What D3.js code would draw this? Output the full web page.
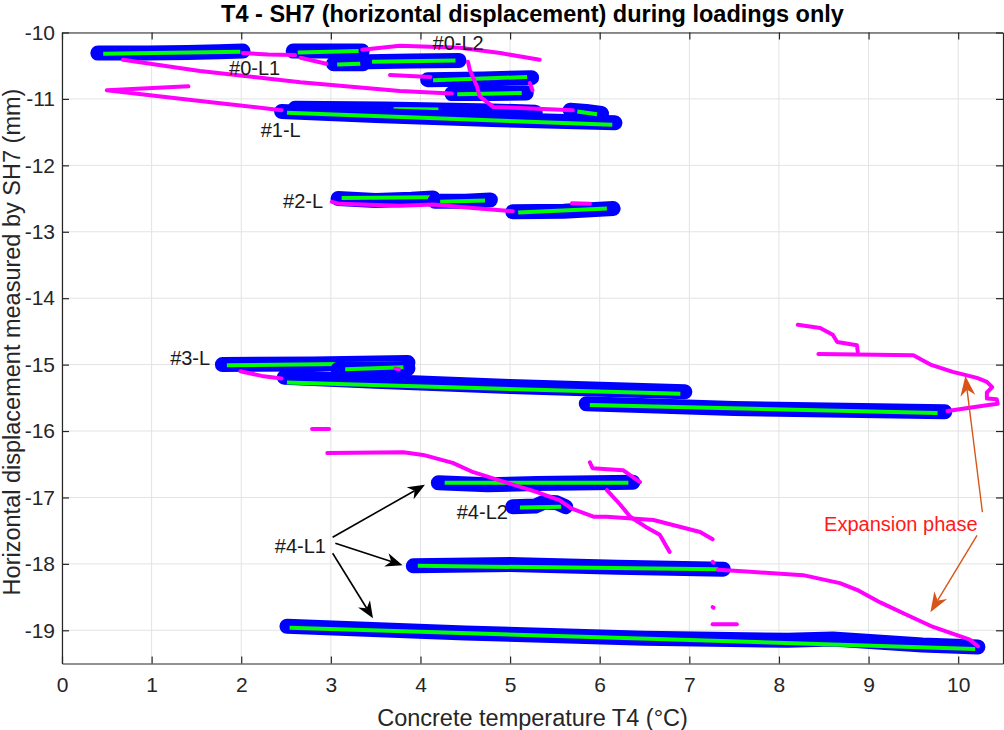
<!DOCTYPE html>
<html>
<head>
<meta charset="utf-8">
<script src="https://cdn.jsdelivr.net/npm/d3@7"></script>
<style>
  html, body { margin: 0; padding: 0; background: #fff; }
  svg { display: block; font-family: "Liberation Sans", Arial, Helvetica, sans-serif; }
</style>
</head>
<body>
<svg id="chart" width="1004" height="730"></svg>
<script>
// Axis ticks
const xTicks = [0, 1, 2, 3, 4, 5, 6, 7, 8, 9, 10];
const yTicks = [-10, -11, -12, -13, -14, -15, -16, -17, -18, -19];

// Loading phases: raw points [T4 (°C), SH7 (mm)] per loading, grouped by campaign
const loading0 = [
  [[0.40, -10.31], [0.95, -10.31], [1.40, -10.30], [1.75, -10.29], [2.02, -10.28]],
  [[2.58, -10.28], [3.00, -10.28], [3.35, -10.28]],
  [[3.03, -10.47], [3.36, -10.47]],
  [[3.41, -10.44], [3.90, -10.43], [4.43, -10.42]],
  [[4.08, -10.71], [4.70, -10.70], [5.24, -10.68]],
  [[4.35, -10.92], [4.80, -10.92], [5.18, -10.91]]
];
const loading1 = [
  [[2.60, -11.14], [3.60, -11.15], [4.80, -11.18], [5.28, -11.20]],
  [[2.45, -11.19], [3.50, -11.25], [4.80, -11.31], [6.17, -11.36]],
  [[5.67, -11.17], [5.85, -11.19], [6.02, -11.22]]
];
const loading2 = [
  [[3.08, -12.50], [3.50, -12.53], [3.90, -12.51], [4.14, -12.49]],
  [[4.16, -12.54], [4.50, -12.54], [4.78, -12.52]],
  [[5.03, -12.70], [5.60, -12.69], [6.15, -12.65]]
];
const loading3 = [
  [[1.79, -15.00], [2.80, -14.99], [3.86, -14.97]],
  [[3.08, -15.07], [3.50, -15.07], [3.86, -15.06]],
  [[2.48, -15.19], [3.50, -15.25], [5.00, -15.33], [6.20, -15.38], [6.95, -15.41]],
  [[5.85, -15.59], [7.50, -15.66], [9.85, -15.71]]
];
const loading4 = [
  [[4.20, -16.78], [4.75, -16.81], [5.30, -16.79], [6.37, -16.77]],
  [[5.03, -17.14], [5.28, -17.13], [5.38, -17.07], [5.52, -17.08], [5.62, -17.14]],
  [[3.92, -18.03], [5.00, -18.01], [6.20, -18.05], [7.38, -18.08]],
  [[2.51, -18.94], [4.50, -19.04], [6.50, -19.12], [8.10, -19.15], [8.60, -19.13],
   [9.60, -19.22], [10.22, -19.25]]
];

// Linear fits of each loading: [T start, SH7 start, T end, SH7 end]
const fit0 = [
  [0.46, -10.32, 1.99, -10.29],
  [2.63, -10.30, 3.31, -10.28],
  [3.07, -10.48, 3.33, -10.47],
  [3.46, -10.44, 4.39, -10.42],
  [4.14, -10.72, 5.19, -10.67],
  [4.41, -10.93, 5.13, -10.91]
];
const fit1 = [
  [3.70, -11.15, 4.20, -11.16],
  [2.51, -11.21, 6.14, -11.39],
  [5.75, -11.19, 5.97, -11.23]
];
const fit2 = [
  [3.12, -12.49, 4.11, -12.48],
  [4.22, -12.55, 4.72, -12.53],
  [5.09, -12.71, 6.08, -12.65]
];
const fit3 = [
  [1.84, -15.01, 3.81, -14.98],
  [3.16, -15.07, 3.81, -15.04],
  [2.51, -15.27, 6.90, -15.44],
  [5.89, -15.61, 9.77, -15.73]
];
const fit4 = [
  [4.27, -16.78, 6.32, -16.78],
  [5.11, -17.15, 5.57, -17.14],
  [3.97, -18.03, 7.32, -18.08],
  [2.54, -18.96, 10.19, -19.28]
];

// Remaining record (outside loadings)
const traceTop = [
  [[0.68, -10.41], [1.54, -10.58], [2.66, -10.75], [3.77, -10.88], [4.35, -10.92]],
  [[1.41, -10.81], [0.50, -10.87], [1.54, -11.03], [2.45, -11.17]],
  [[2.02, -10.31], [2.30, -10.33], [2.60, -10.34]],
  [[2.66, -10.38], [2.95, -10.47]],
  [[3.35, -10.26], [3.77, -10.20], [4.44, -10.23], [4.89, -10.31], [5.33, -10.41]],
  [[3.66, -10.64], [4.11, -10.67]],
  [[4.53, -10.44], [4.55, -10.56], [4.63, -10.81], [4.66, -10.96], [4.81, -11.12], [5.70, -11.17]],
  [[5.22, -10.76], [5.25, -10.87]]
];
const trace2 = [
  [[3.01, -12.55], [3.10, -12.58], [3.77, -12.61], [4.14, -12.59], [4.55, -12.64], [5.03, -12.69]],
  [[5.69, -12.57], [5.89, -12.58]]
];
const trace3 = [
  [[1.99, -15.10], [2.23, -15.17], [2.45, -15.21]],
  [[2.79, -15.97], [2.98, -15.97]],
  [[3.72, -15.06], [3.76, -15.07]]
];
const trace4 = [
  [[2.96, -16.33], [3.81, -16.32], [4.03, -16.36], [4.36, -16.48], [4.59, -16.62], [4.97, -16.78],
   [5.30, -16.92], [5.55, -17.04], [5.69, -17.17], [5.93, -17.29], [6.08, -17.29], [6.60, -17.34],
   [7.12, -17.52], [7.26, -17.63]],
  [[5.89, -16.47], [5.92, -16.56], [6.26, -16.59], [6.45, -16.77]],
  [[6.08, -16.89], [6.23, -17.11], [6.34, -17.29], [6.51, -17.44], [6.67, -17.56], [6.78, -17.82]],
  [[7.26, -17.97], [7.27, -17.98]],
  [[7.26, -18.65], [7.27, -18.66]],
  [[7.26, -18.91], [7.53, -18.91]]
];
const traceExpansion = [
  [[7.32, -18.09], [7.68, -18.12], [8.27, -18.17], [8.68, -18.29], [8.87, -18.39], [9.13, -18.58],
   [9.43, -18.77], [9.72, -18.95], [10.13, -19.14], [10.22, -19.24]],
  [[8.21, -14.40], [8.46, -14.45], [8.60, -14.55], [8.65, -14.66], [8.87, -14.71], [8.88, -14.81]],
  [[8.44, -14.84], [9.50, -14.86], [9.69, -15.00], [9.94, -15.11], [10.21, -15.20], [10.32, -15.26],
   [10.38, -15.34], [10.32, -15.42], [10.32, -15.51], [10.43, -15.52], [10.44, -15.59], [10.28, -15.62],
   [9.88, -15.70]]
];

// Loading labels (centre positions in data units)
const labelText = ["#0-L1", "#0-L2", "#1-L", "#2-L", "#3-L", "#4-L2", "#4-L1"];
const labelT = [2.15, 4.42, 2.44, 2.69, 1.43, 4.69, 2.66];
const labelD = [-10.53, -10.16, -11.47, -12.54, -14.90, -17.22, -17.73];

// Arrows pointing at the #4-L1 loadings: [T tail, SH7 tail, T head, SH7 head]
const arrowsL1 = [
  [3.02, -17.60, 4.05, -16.81],
  [3.05, -17.69, 3.80, -18.02],
  [3.02, -17.84, 3.47, -18.82]
];
// Expansion phase note
const expansionText = "Expansion phase";
const expansionAt = [9.36, -17.39];
const arrowsExpansion = [
  [10.27, -17.22, 10.08, -15.17],
  [10.21, -17.57, 9.69, -18.73]
];

const svg = d3.select("#chart");
const margin = { left: 62, top: 32.5, right: 1003, bottom: 663.5 };

const x = d3.scaleLinear().domain([0, 10.5]).range([margin.left, margin.right]);
const y = d3.scaleLinear().domain([-19.5, -10]).range([margin.bottom, margin.top]);

svg.append("rect").attr("width", 1004).attr("height", 730).attr("fill", "#fff");

// Grid
const grid = svg.append("g").attr("stroke", "#e3e3e3").attr("stroke-width", 1);
grid.selectAll("line.gx").data(xTicks).join("line")
  .attr("x1", d => x(d)).attr("x2", d => x(d))
  .attr("y1", margin.top).attr("y2", margin.bottom);
grid.selectAll("line.gy").data(yTicks).join("line")
  .attr("x1", margin.left).attr("x2", margin.right)
  .attr("y1", d => y(d)).attr("y2", d => y(d));

// Plot clip
svg.append("clipPath").attr("id", "plotClip").append("rect")
  .attr("x", margin.left).attr("y", margin.top)
  .attr("width", margin.right - margin.left).attr("height", margin.bottom - margin.top);

const plot = svg.append("g").attr("clip-path", "url(#plotClip)");
const line = d3.line().x(d => x(d[0])).y(d => y(d[1]));

const loadings = [loading0, loading1, loading2, loading3, loading4];
const fits = [fit0, fit1, fit2, fit3, fit4];
const traces = [traceTop, trace2, trace3, trace4, traceExpansion];

// Loadings: raw data (blue) with linear fit (green)
loadings.forEach((group, gi) => {
  group.forEach((seg, si) => {
    plot.append("path").datum(seg)
      .attr("d", line)
      .attr("fill", "none").attr("stroke", "#0000ff")
      .attr("stroke-width", 15).attr("stroke-linecap", "round").attr("stroke-linejoin", "round");
    const f = fits[gi][si];
    plot.append("line")
      .attr("x1", x(f[0])).attr("y1", y(f[1]))
      .attr("x2", x(f[2])).attr("y2", y(f[3]))
      .attr("stroke", "#00ff00").attr("stroke-width", 4);
  });
});

// Record outside loadings (magenta)
traces.forEach(group => {
  group.forEach(seg => {
    plot.append("path").datum(seg)
      .attr("d", line)
      .attr("fill", "none").attr("stroke", "#ff00ff")
      .attr("stroke-width", 4).attr("stroke-linecap", "round").attr("stroke-linejoin", "round");
  });
});

// Axes (ticks pointing inward on all four sides)
const axisColor = "#262626";
function styleAxis(g) {
  g.select(".domain").attr("stroke", axisColor).attr("stroke-width", 1.2);
  g.selectAll(".tick line").attr("stroke", axisColor).attr("stroke-width", 1.2);
  g.selectAll(".tick text").attr("fill", axisColor).style("font-size", "21px");
}
svg.append("g").attr("transform", `translate(0,${margin.bottom})`)
  .call(d3.axisBottom(x).tickValues(xTicks).tickSize(-7).tickSizeOuter(0).tickPadding(14).tickFormat(d => String(d)))
  .call(styleAxis);
svg.append("g").attr("transform", `translate(0,${margin.top})`)
  .call(d3.axisTop(x).tickValues(xTicks).tickSize(-7).tickSizeOuter(0).tickFormat(""))
  .call(styleAxis);
svg.append("g").attr("transform", `translate(${margin.left},0)`)
  .call(d3.axisLeft(y).tickValues(yTicks).tickSize(-7).tickSizeOuter(0).tickPadding(7).tickFormat(d => String(d)))
  .call(styleAxis);
svg.append("g").attr("transform", `translate(${margin.right},0)`)
  .call(d3.axisRight(y).tickValues(yTicks).tickSize(-7).tickSizeOuter(0).tickFormat(""))
  .call(styleAxis);

// Titles
svg.append("text")
  .attr("x", (margin.left + margin.right) / 2).attr("y", 22)
  .attr("text-anchor", "middle").attr("font-weight", "bold").style("font-size", "23.5px")
  .attr("fill", "#000")
  .text("T4 - SH7 (horizontal displacement) during loadings only");
svg.append("text")
  .attr("x", (margin.left + margin.right) / 2).attr("y", 726)
  .attr("text-anchor", "middle").style("font-size", "23.5px").attr("fill", axisColor)
  .text("Concrete temperature T4 (°C)");
svg.append("text")
  .attr("transform", `translate(20,${(margin.top + margin.bottom) / 2 - 6}) rotate(-90)`)
  .attr("text-anchor", "middle").style("font-size", "23.5px").attr("fill", axisColor)
  .text("Horizontal displacement measured by SH7 (mm)");

// Arrow helper: line with a swept-back head, drawn from data coordinates
function drawArrow(a, color, width, headLen, headHalf) {
  const x1 = x(a[0]), y1 = y(a[1]), x2 = x(a[2]), y2 = y(a[3]);
  const ang = Math.atan2(y2 - y1, x2 - x1);
  const ux = Math.cos(ang), uy = Math.sin(ang);
  const bx = x2 - ux * headLen, by = y2 - uy * headLen;
  const nx = -uy, ny = ux;
  const notch = headLen * 0.3;
  svg.append("line")
    .attr("x1", x1).attr("y1", y1)
    .attr("x2", x2 - ux * (headLen - notch)).attr("y2", y2 - uy * (headLen - notch))
    .attr("stroke", color).attr("stroke-width", width);
  const pts = [
    [x2, y2],
    [bx + nx * headHalf, by + ny * headHalf],
    [x2 - ux * (headLen - notch), y2 - uy * (headLen - notch)],
    [bx - nx * headHalf, by - ny * headHalf]
  ];
  svg.append("path").attr("d", "M" + pts.map(p => p.join(",")).join("L") + "Z").attr("fill", color);
}

arrowsL1.forEach(a => drawArrow(a, "#000", 1.6, 17, 7));
arrowsExpansion.forEach(a => drawArrow(a, "#d95319", 1.4, 20, 7.5));

// Loading labels
svg.append("g").selectAll("text").data(labelText).join("text")
  .attr("x", (d, i) => x(labelT[i])).attr("y", (d, i) => y(labelD[i]))
  .attr("dy", "0.36em").attr("text-anchor", "middle")
  .style("font-size", "20px").attr("fill", "#1a1a1a")
  .text(d => d);

svg.append("text")
  .attr("x", x(expansionAt[0])).attr("y", y(expansionAt[1]))
  .attr("dy", "0.36em").attr("text-anchor", "middle")
  .style("font-size", "20px").attr("fill", "#ff1a1a")
  .text(expansionText);
</script>
</body>
</html>
